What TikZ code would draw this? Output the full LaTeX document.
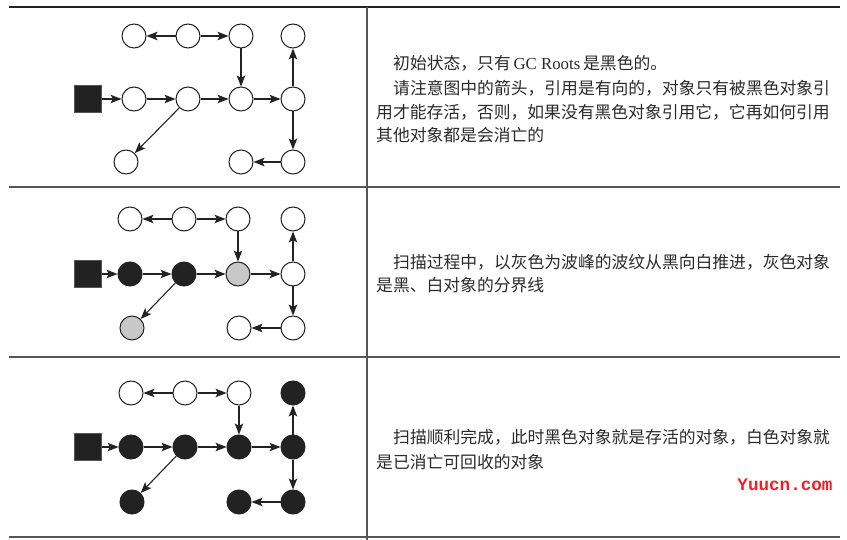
\documentclass[tikz,border=0pt]{standalone}
\usepackage{fontspec}
\setmainfont{Liberation Serif}
\newfontfamily\cjk{Noto Sans CJK SC}
\newfontfamily\latinf{Liberation Serif}
\newfontfamily\monof{Liberation Mono}
\usetikzlibrary{arrows.meta}
\definecolor{ink}{HTML}{222222}
\definecolor{txt}{HTML}{2A2A2A}
\definecolor{greyobj}{HTML}{C8C8C8}
\definecolor{rule}{HTML}{555555}
\definecolor{wm}{HTML}{F01E28}
\tikzset{
  obj/.style={circle,draw=ink,line width=1pt,minimum size=24pt,inner sep=0pt},
  wobj/.style={obj,fill=white},
  bobj/.style={obj,fill=ink},
  gobj/.style={obj,fill=greyobj},
  root/.style={rectangle,draw=rule,line width=0.8pt,fill=ink,minimum size=27pt,inner sep=0pt},
  ref/.style={draw=ink,line width=1.1pt,-{Stealth[length=11pt,width=8.5pt,inset=2.5pt]}},
  para/.style={anchor=west,inner sep=0pt,text=txt,font=\cjk\fontsize{16.8}{20}\selectfont},
}
\begin{document}
\begin{tikzpicture}[x=1pt,y=-1pt]
\useasboundingbox (0,0) rectangle (847,540);
% table
\draw[line width=2.5pt,ink] (9,7) coordinate (tl) -- (840,7) coordinate (tr);
\draw[line width=1.8pt,rule] (9,187) coordinate (s1l) -- (840,187) coordinate (s1r);
\draw[line width=1.8pt,rule] (9,357) coordinate (s2l) -- (840,357) coordinate (s2r);
\draw[line width=1.8pt,rule] (9,537) coordinate (bl) -- (840,537) coordinate (br);
\draw[line width=1.1pt,rule] (367,7) coordinate (vt) -- (367,540) coordinate (vb);

% ---------- row 1 ----------
\node[wobj] (a1) at (134,36) {};
\node[wobj] (a2) at (188,36) {};
\node[wobj] (a3) at (241,36) {};
\node[wobj] (a4) at (293,36) {};
\node[root] (ar) at (88,99) {};
\node[wobj] (am1) at (134,99) {};
\node[wobj] (am2) at (188,99) {};
\node[wobj] (am3) at (241,99) {};
\node[wobj] (am4) at (293,99) {};
\node[wobj] (ab1) at (126,162) {};
\node[wobj] (ab3) at (241,162) {};
\node[wobj] (ab4) at (293,162) {};
\draw[ref] (a2) -- (a1);
\draw[ref] (a2) -- (a3);
\draw[ref] (a3) -- (am3);
\draw[ref] (ar) -- (am1);
\draw[ref] (am1) -- (am2);
\draw[ref] (am2) -- (am3);
\draw[ref] (am3) -- (am4);
\draw[ref] (am4) -- (a4);
\draw[ref] (am4) -- (ab4);
\draw[ref] (ab4) -- (ab3);
\draw[ref] (am2) -- (ab1);

% ---------- row 2 ----------
\node[wobj] (b1) at (130,219) {};
\node[wobj] (b2) at (184,219) {};
\node[wobj] (b3) at (238,219) {};
\node[wobj] (b4) at (293,219) {};
\node[root] (br0) at (88,274) {};
\node[bobj] (bm1) at (130,274) {};
\node[bobj] (bm2) at (184,274) {};
\node[gobj] (bm3) at (238,274) {};
\node[wobj] (bm4) at (293,274) {};
\node[gobj] (bb1) at (132,328) {};
\node[wobj] (bb3) at (239,328) {};
\node[wobj] (bb4) at (293,328) {};
\draw[ref] (b2) -- (b1);
\draw[ref] (b2) -- (b3);
\draw[ref] (b3) -- (bm3);
\draw[ref] (br0) -- (bm1);
\draw[ref] (bm1) -- (bm2);
\draw[ref] (bm2) -- (bm3);
\draw[ref] (bm3) -- (bm4);
\draw[ref] (bm4) -- (b4);
\draw[ref] (bm4) -- (bb4);
\draw[ref] (bb4) -- (bb3);
\draw[ref] (bm2) -- (bb1);

% ---------- row 3 ----------
\node[wobj] (c1) at (131,393) {};
\node[wobj] (c2) at (185,393) {};
\node[wobj] (c3) at (239,393) {};
\node[bobj] (c4) at (293,393) {};
\node[root] (cr) at (88,447) {};
\node[bobj] (cm1) at (131,447) {};
\node[bobj] (cm2) at (185,447) {};
\node[bobj] (cm3) at (239,447) {};
\node[bobj] (cm4) at (293,447) {};
\node[bobj] (cb1) at (132,502) {};
\node[bobj] (cb3) at (239,502) {};
\node[bobj] (cb4) at (293,502) {};
\draw[ref] (c2) -- (c1);
\draw[ref] (c2) -- (c3);
\draw[ref] (c3) -- (cm3);
\draw[ref] (cr) -- (cm1);
\draw[ref] (cm1) -- (cm2);
\draw[ref] (cm2) -- (cm3);
\draw[ref] (cm3) -- (cm4);
\draw[ref] (cm4) -- (c4);
\draw[ref] (cm4) -- (cb4);
\draw[ref] (cb4) -- (cb3);
\draw[ref] (cm2) -- (cb1);

% ---------- texts ----------
\node[para] (t11) at (393,63) {初始状态，只有\,{\latinf GC Roots}\,是黑色的。};
\node[para] (t12) at (393,88) {请注意图中的箭头，引用是有向的，对象只有被黑色对象引};
\node[para] (t13) at (376,112) {用才能存活，否则，如果没有黑色对象引用它，它再如何引用};
\node[para] (t14) at (376,135) {其他对象都是会消亡的};
\node[para] (t21) at (393,262) {扫描过程中，以灰色为波峰的波纹从黑向白推进，灰色对象};
\node[para] (t22) at (376,285) {是黑、白对象的分界线};
\node[para] (t31) at (393,437) {扫描顺利完成，此时黑色对象就是存活的对象，白色对象就};
\node[para] (t32) at (376,462) {是已消亡可回收的对象};
\node[inner sep=0pt,text=wm,font=\monof\bfseries\fontsize{17.6}{20}\selectfont] (wmk) at (785,485) {Yuucn.com};
\end{tikzpicture}
\end{document}
